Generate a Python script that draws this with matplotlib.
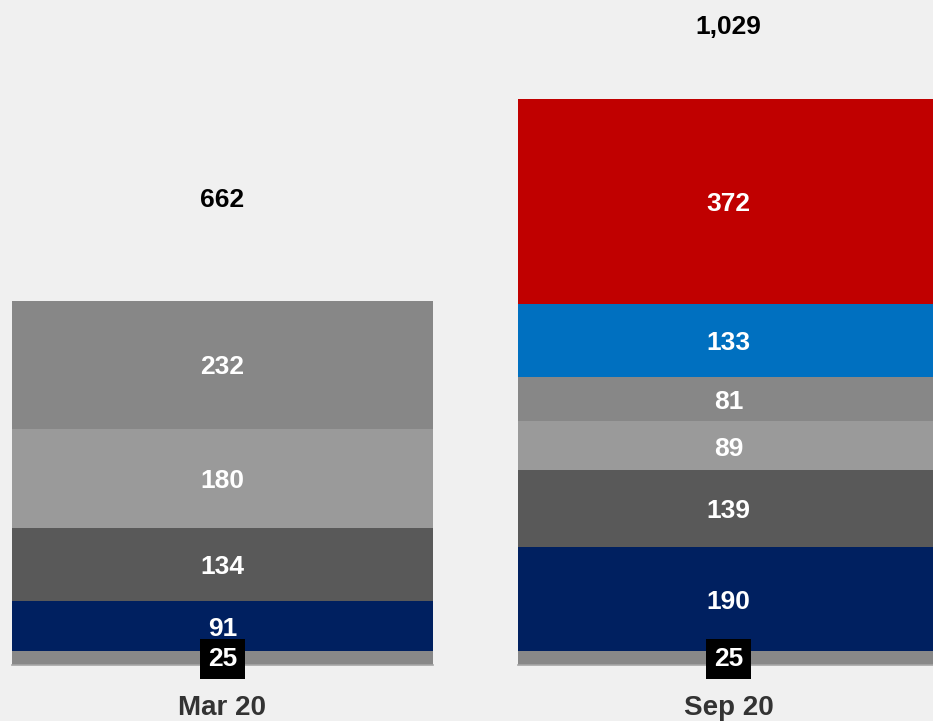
import matplotlib.pyplot as plt
import numpy as np

plt.rcParams['font.family'] = ['Liberation Sans', 'DejaVu Sans']

# data (stacked bottom to top)
categories = ['Mar 20', 'Sep 20']
other = [25, 25]
navy = [91, 190]
dark_grey = [134, 139]
light_grey = [180, 89]
mid_grey = [232, 81]
blue = [0, 133]
red = [0, 372]
totals = [662, 1029]
total_label_y = [846, 1160]

series = [other, navy, dark_grey, light_grey, mid_grey, blue, red]
colors = ['#888888', '#002060', '#595959', '#9a9a9a', '#878787', '#0070c0', '#c00000']

BG = '#f0f0f0'
NUDGE = 5  # labels sit a little below the segment middle

fig = plt.figure(figsize=(9.33, 7.21), dpi=100, facecolor=BG)
ax = fig.add_axes([0, 0, 1, 1])
ax.set_facecolor(BG)

x = np.arange(len(categories))
width = 0.832
bottom = np.zeros(len(categories))

for i, (vals, col) in enumerate(zip(series, colors)):
    vals = np.array(vals, dtype=float)
    ax.bar(x, vals, width, bottom=bottom, color=col, edgecolor='none')
    for j in range(len(categories)):
        if vals[j] <= 0:
            continue
        yc = bottom[j] + vals[j] / 2
        if i == 0:
            # small base segment gets a black tag
            ax.text(x[j], yc - 1, f'{int(vals[j])}', ha='center', va='center',
                    color='white', fontsize=19, fontweight='bold',
                    bbox=dict(boxstyle='square,pad=0.3', fc='black', ec='none'))
        else:
            ax.text(x[j], yc - NUDGE, f'{int(vals[j])}', ha='center', va='center',
                    color='white', fontsize=19, fontweight='bold')
    bottom += vals

# thin outline at the bar base
for j in range(len(categories)):
    ax.plot([x[j] - width / 2, x[j] + width / 2], [0, 0], color='#a6a6a6', lw=1.2)

for j in range(len(categories)):
    ax.text(x[j], total_label_y[j], f'{totals[j]:,}', ha='center', va='center',
            color='black', fontsize=19, fontweight='bold')
    ax.text(x[j], -78, categories[j], ha='center', va='center',
            color='#333333', fontsize=20, fontweight='bold')

ax.set_xlim(-0.4397, 1.4042)
ax.set_ylim(-101.8, 1209.1)
ax.axis('off')

fig.savefig('out.png', dpi=100, facecolor=BG)
